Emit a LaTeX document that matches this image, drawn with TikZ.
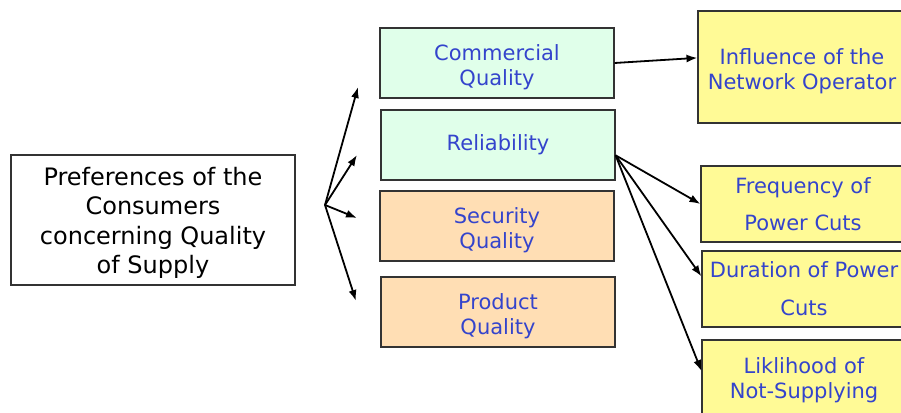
\documentclass[tikz,border=0pt]{standalone}
\usepackage{fontspec}
\setmainfont{DejaVu Sans}
\usetikzlibrary{arrows.meta}
\definecolor{txtblue}{RGB}{52,68,204}
\definecolor{mintfill}{RGB}{224,255,234}
\definecolor{peachfill}{RGB}{255,222,180}
\definecolor{lemonfill}{RGB}{255,250,150}
% lines of a box, pushed a little down
\newcommand{\lowlines}[1]{\begin{tabular}{@{}c@{}}\rule{0pt}{28pt}#1\end{tabular}}

\begin{document}
\begin{tikzpicture}[x=1pt,y=-1pt,
    box/.style={draw=black!80,line width=1.1pt,align=center,inner sep=0pt,
                text=txtblue,font=\fontsize{21}{25}\selectfont},
    midbox/.style={box,minimum width=234pt,minimum height=70pt},
    sidebox/.style={box,fill=lemonfill,minimum width=204pt},
    arr/.style={-{Latex[length=11pt,width=8pt]},line width=1.8pt}]
    \useasboundingbox (0,0) rectangle (901,412);
    \clip (0,0) rectangle (901,412);
    % left
    \node[box,text=black,minimum width=284pt,minimum height=130pt,
          font=\fontsize{24}{29.5}\selectfont] (pref) at (153,220)
          {\lowlines{Preferences of the\\Consumers\\concerning Quality\\of Supply}};
    % middle column
    \node[midbox,fill=mintfill] (comm) at (497,63) {\lowlines{Commercial\\Quality}};
    \node[midbox,fill=mintfill] (rel) at (498,145) {Reliability};
    \node[midbox,fill=peachfill] (sec) at (497,226) {\lowlines{Security\\Quality}};
    \node[midbox,fill=peachfill] (prod) at (498,312) {\lowlines{Product\\Quality}};
    % right column
    \node[sidebox,minimum height=112pt,minimum width=208pt] (infl) at (802,67) {\lowlines{Influence of the\\Network Operator}};
    \node[sidebox,minimum height=76pt,font=\fontsize{21}{37}\selectfont] (freq) at (803,204) {Frequency of\\Power Cuts};
    \node[sidebox,minimum height=76pt,font=\fontsize{21}{38}\selectfont] (dur) at (804,289) {Duration of Power\\Cuts};
    \node[sidebox,minimum height=80pt] (lik) at (804,380) {Liklihood of\\Not-Supplying};
    % fan
    \coordinate (fan) at (325,205);
    \coordinate (f1) at (358,87);
    \coordinate (f2) at (357,155);
    \coordinate (f3) at (357,218);
    \coordinate (f4) at (356,301);
    \foreach \e in {f1,f2,f3,f4}
        \draw[arr] (fan) -- (\e);
    % arrows
    \draw[arr] (comm.east) -- (infl.175);
    \draw[arr] (rel.-5) -- (freq.west);
    \draw[arr] (rel.-5) -- (dur.173);
    \draw[arr] (rel.-5) -- (lik.175);
\end{tikzpicture}
\end{document}
